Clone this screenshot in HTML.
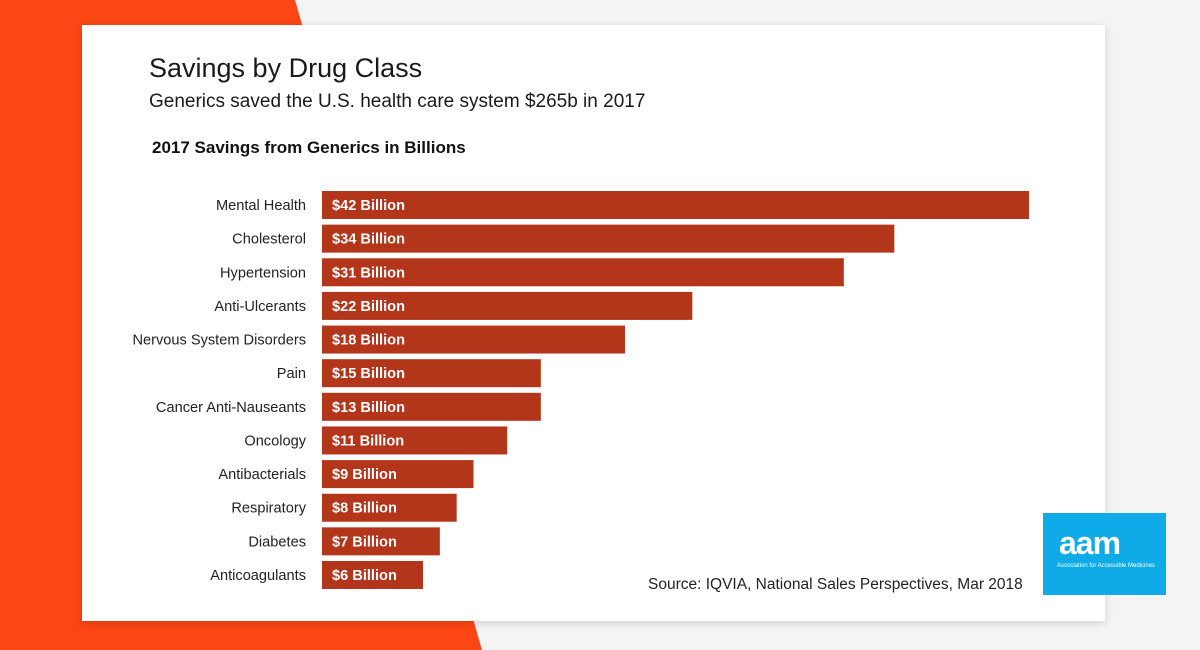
<!DOCTYPE html>
<html><head><meta charset="utf-8"><style>
body{margin:0;width:1200px;height:650px;overflow:hidden;background:#f2f2f2;font-family:"Liberation Sans",sans-serif;position:relative}
#bg{position:absolute;left:0;top:0}
#card{position:absolute;left:82px;top:25px;width:1023px;height:596px;background:#fff;box-shadow:0 2px 8px rgba(0,0,0,0.15)}
.t{position:absolute;white-space:nowrap;color:#222}
</style></head><body>
<svg id="bg" width="1200" height="650"><rect width="1200" height="650" fill="#f4f4f4"/><polygon points="0,0 295,0 482,650 0,650" fill="#fc4614"/></svg>
<div id="card"></div>
<div class="t" style="left:149px;top:53px;font-size:27px;color:#1a1a1a">Savings by Drug Class</div>
<div class="t" style="left:149px;top:91px;font-size:19px;color:#1a1a1a">Generics saved the U.S. health care system $265b in 2017</div>
<div class="t" style="left:152px;top:138px;font-size:17px;font-weight:bold;color:#111">2017 Savings from Generics in Billions</div>
<svg id="chart" width="1200" height="650" style="position:absolute;left:0;top:0"></svg>
<div class="t" style="left:648px;top:576px;font-size:15.5px;color:#222">Source: IQVIA, National Sales Perspectives, Mar 2018</div>
<div style="position:absolute;left:1043px;top:513px;width:123px;height:82px;background:#0faae8">
<div class="t" style="left:16px;top:12px;font-size:32px;font-weight:bold;color:#fff;letter-spacing:-1px">aam</div>
<div class="t" style="left:14px;top:50px;font-size:6px;color:#fff">Association for Accessible Medicines</div>
</div>
<script>
const categories=["Mental Health","Cholesterol","Hypertension","Anti-Ulcerants","Nervous System Disorders","Pain","Cancer Anti-Nauseants","Oncology","Antibacterials","Respiratory","Diabetes","Anticoagulants"];
const values=[42,34,31,22,18,13,13,11,9,8,7,6];
const valueLabels=["$42 Billion","$34 Billion","$31 Billion","$22 Billion","$18 Billion","$15 Billion","$13 Billion","$11 Billion","$9 Billion","$8 Billion","$7 Billion","$6 Billion"];
const svg=document.getElementById('chart');const NS="http://www.w3.org/2000/svg";
const x=v=>322+v*(1029-322)/42;
const y=i=>205+i*(575-205)/11;
categories.forEach((c,i)=>{
 const r=document.createElementNS(NS,'rect');
 r.setAttribute('x',x(0));r.setAttribute('y',y(i)-14);r.setAttribute('width',x(values[i])-x(0));r.setAttribute('height',28);r.setAttribute('fill','#b3351a');
 
 
 svg.appendChild(r);
 const l=document.createElementNS(NS,'text');
 l.setAttribute('x',306);l.setAttribute('y',y(i)+5);l.setAttribute('text-anchor','end');l.setAttribute('font-size','14.6');l.setAttribute('fill','#222');l.textContent=c;
 
 
 svg.appendChild(l);
 const v=document.createElementNS(NS,'text');
 v.setAttribute('x',332);v.setAttribute('y',y(i)+5);v.setAttribute('font-size','14.6');v.setAttribute('font-weight','bold');v.setAttribute('fill','#fff');v.textContent=valueLabels[i];
 
 
 svg.appendChild(v);
});
</script>
</body></html>
